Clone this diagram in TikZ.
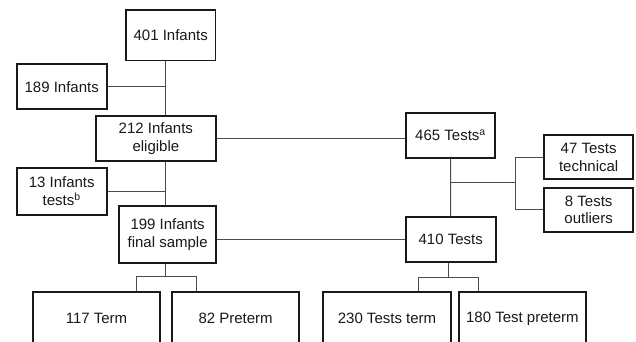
\documentclass[tikz,border=0pt]{standalone}
\usepackage{fontspec}
\setmainfont{Liberation Sans}
\begin{document}
\begin{tikzpicture}[x=1pt,y=-1pt,
  box/.style={draw=black!90, line width=1.8pt, fill=white, align=center, inner sep=0pt,
    font=\fontsize{15}{17.7}\selectfont, text=black!90},
  conn/.style={draw=black!70, line width=1pt}]
\useasboundingbox (0,0) rectangle (636,341);
\clip (0,0) rectangle (636,341);
% left column
\node[box, minimum width=89.5pt, minimum height=50.5pt] (n401) at (170.75,35.25) {401 Infants};
\node[box, minimum width=90pt, minimum height=45pt] (n189) at (61.7,86.8) {189 Infants};
\node[box, minimum width=119.7pt, minimum height=44.7pt] (n212) at (155.85,138.35) {212 Infants\\eligible};
\node[box, minimum width=90pt, minimum height=47.3pt] (n13) at (61.7,191.35) {13 Infants\\tests\textsuperscript{b}};
\node[box, minimum width=96.7pt, minimum height=56.7pt] (n199) at (167.65,234.35) {199 Infants\\final sample};
\node[box, minimum width=127.6pt, minimum height=54pt] (n117) at (96.5,318.7) {117 Term};
\node[box, minimum width=127.3pt, minimum height=54pt] (n82) at (235.65,318.7) {82 Preterm};
% right column
\node[box, minimum width=89pt, minimum height=44.4pt] (n465) at (450.5,135.5) {465 Tests\textsuperscript{a}};
\node[box, minimum width=89.3pt, minimum height=44.3pt] (n47) at (588.65,157.15) {47 Tests\\technical};
\node[box, minimum width=89.3pt, minimum height=44pt] (n8) at (588.65,209.7) {8 Tests\\outliers};
\node[box, minimum width=90pt, minimum height=45pt] (n410) at (450.7,239.8) {410 Tests};
\node[box, minimum width=127.4pt, minimum height=54pt] (n230) at (387,318.7) {230 Tests term};
\node[box, minimum width=127.3pt, minimum height=54pt] (n180) at (522.35,318.7) {180 Test preterm};
% connector helpers
\coordinate (sp) at (165.7,0);
\coordinate (br) at (515,182.3);
\coordinate (ja) at (136,276.7);
\coordinate (jm) at (165.7,276.7);
\coordinate (jb) at (196,276.7);
\coordinate (ka) at (418.3,277.7);
\coordinate (km) at (448.3,277.7);
\coordinate (kb) at (478.3,277.7);
% left connectors
\draw[conn] (n401.south -| sp) -- (n212.north -| sp);
\draw[conn] (n189.east) -- (n189.east -| sp);
\draw[conn] (n212.south -| sp) -- (n199.north -| sp);
\draw[conn] (n13.east) -- (n13.east -| sp);
\draw[conn] (n199.south -| jm) -- (jm);
\draw[conn] (ja |- n117.north) -- (ja) -- (jb) -- (jb |- n82.north);
% cross connectors
\draw[conn] (n212.east) -- (n465.west |- n212.east);
\draw[conn] (n199.east |- n410.west) -- (n410.west);
% right connectors
\draw[conn] (n465.south) -- (n410.north);
\draw[conn] (n465.south |- br) -- (br);
\draw[conn] (n47.west) -- (br |- n47.west) -- (br |- n8.west) -- (n8.west);
\draw[conn] (n410.south -| km) -- (km);
\draw[conn] (ka |- n230.north) -- (ka) -- (kb) -- (kb |- n180.north);
\end{tikzpicture}
\end{document}
